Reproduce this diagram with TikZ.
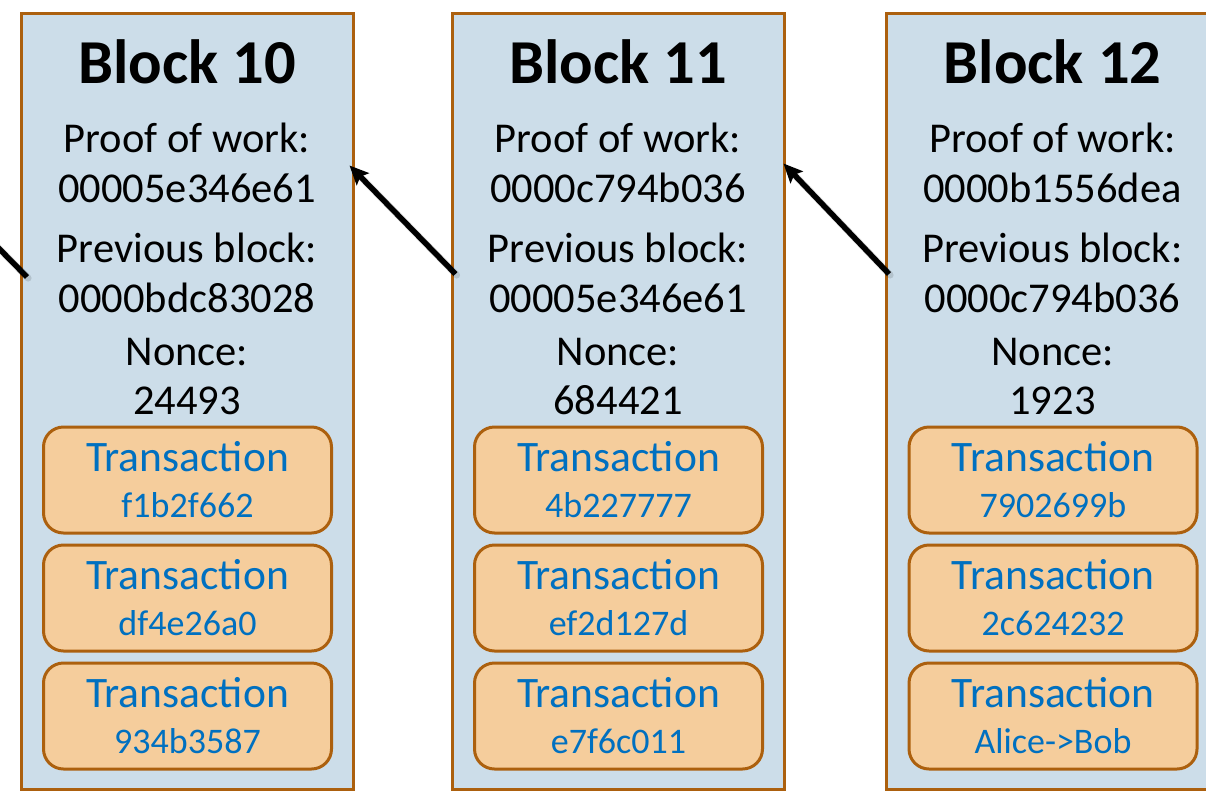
\documentclass[tikz,border=0pt]{standalone}
\usepackage{fontspec}
\setmainfont{Carlito}
\usetikzlibrary{arrows.meta}

\definecolor{blockfill}{RGB}{204,221,233}
\definecolor{edgebrown}{RGB}{172,96,14}
\definecolor{txfill}{RGB}{245,205,156}
\definecolor{txtext}{RGB}{0,112,192}

\tikzset{
  blockbox/.style={draw=edgebrown, fill=blockfill, line width=3pt,
    minimum width=332pt, minimum height=776pt, inner sep=0pt},
  txbox/.style={draw=edgebrown, fill=txfill, line width=3pt, rounded corners=20pt,
    minimum width=288pt, minimum height=106pt, inner sep=0pt},
  title/.style={anchor=base, inner sep=0pt, font=\fontsize{62.5}{62}\selectfont\bfseries},
  body/.style={anchor=base, inner sep=0pt, font=\fontsize{42.5}{44}\selectfont},
  txhead/.style={anchor=base, inner sep=0pt, text=txtext, font=\fontsize{43.5}{44}\selectfont},
  txid/.style={anchor=base, inner sep=0pt, text=txtext, font=\fontsize{36}{38}\selectfont},
  linkshadow/.style={line width=7pt, draw=black, opacity=0.12, line cap=round,
    shorten <=2pt, shorten >=8pt},
  link/.style={line width=5.5pt, draw=black,
    -{Stealth[length=19pt, width=17pt, inset=3.5pt]}},
}

% one block: #1 name, #2 centre x, #3 title, #4 proof, #5 previous,
% #6 nonce, #7/#8/#9 transaction ids
\newcommand{\chainblock}[9]{%
  \node[blockbox] (#1) at (#2, 401.7) {};
  \node[title] (#1-title) at (#2, 83) {#3};
  \node[body] (#1-powl) at (#2, 152) {Proof of work:};
  \node[body] (#1-pow) at (#2, 202) {#4};
  \node[body] (#1-prevl) at (#2, 262) {Previous block:};
  \node[body] (#1-prev) at (#2, 312) {#5};
  \node[body] (#1-noncel) at (#2, 365) {Nonce:};
  \node[body] (#1-nonce) at (#2, 414) {#6};
  \foreach \ty/\tid/\tn in {480/#7/a, 598/#8/b, 716/#9/c}{
    \node[txbox] (#1-tx\tn) at (#2+0.5, \ty) {};
    \node[txhead] (#1-tx\tn-h) at (#2+0.5, \ty-8.5) {Transaction};
    \node[txid] (#1-tx\tn-id) at (#2+0.5, \ty+37.5) {\tid};
  }%
}

\begin{document}
\begin{tikzpicture}[x=1pt, y=-1pt]
  \useasboundingbox (0,0) rectangle (1206,792);
  \clip (0,0) rectangle (1206,792);
  \fill[white] (0,0) rectangle (1206,792);

  \chainblock{b10}{187}{Block 10}{00005e346e61}{0000bdc83028}{24493}{f1b2f662}{df4e26a0}{934b3587}
  \chainblock{b11}{618}{Block 11}{0000c794b036}{00005e346e61}{684421}{4b227777}{ef2d127d}{e7f6c011}
  \chainblock{b12}{1052.5}{Block 12}{0000b1556dea}{0000c794b036}{1923}{7902699b}{2c624232}{Alice->Bob}

  % hash links: each block points back to its predecessor
  \coordinate (b10-in)  at (349.5,165.5);
  \coordinate (b11-out) at (455.5,274);
  \coordinate (b11-in)  at (783.5,163.5);
  \coordinate (b12-out) at (889,274);
  \coordinate (b10-out) at (27,277);
  \coordinate (b9-in)   at (-30,219);

  \foreach \s/\t in {b11-out/b10-in, b12-out/b11-in, b10-out/b9-in}{
    \draw[linkshadow] ([shift={(2.5,2.5)}]\s) -- ([shift={(2.5,2.5)}]\t);
    \draw[link] (\s) -- (\t);
  }
\end{tikzpicture}
\end{document}
